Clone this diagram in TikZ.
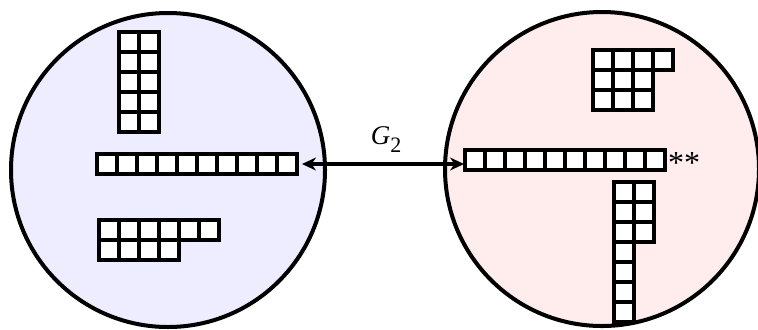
\documentclass[tikz,border=0pt]{standalone}
\usepackage{fontspec}
\setmainfont{Liberation Serif}
\usetikzlibrary{arrows.meta}

\tikzset{cell/.style={draw=black, fill=white, line width=2pt},
	orbit/.style={draw=black, line width=2pt}}
% #1 = left, #2 = top, #3 = row lengths
\newcommand{\youngdiag}[3]{%
	\foreach \len [count=\r] in {#3} {
		\foreach \c in {1,...,\len} {
			\draw[cell] ({#1+20*(\c-1)},{#2-20*(\r-1)}) rectangle ++(20,-20);
		}
	}
}

\begin{document}
\begin{tikzpicture}[x=0.5pt, y=0.5pt, >={Stealth[length=7pt,width=6.5pt]}]
	\clip (0,0) rectangle (758,329);
	\draw[orbit, fill=blue!7] (168,159) circle[radius=157];
	\draw[orbit, fill=red!7] (602,160) circle[radius=157];
	% left orbit
	\youngdiag{119}{297}{2,2,2,2,2}
	\youngdiag{97}{175}{10}
	\youngdiag{99}{109}{6,4}
	% right orbit
	\youngdiag{593}{279}{4,3,3}
	\youngdiag{465}{179}{10}
	\youngdiag{614}{147}{2,2,2,1,1,1,1}
	\coordinate (lend) at (302,165);
	\coordinate (rend) at (464,165);
	\draw[<->, line width=2pt] (lend) -- (rend);
	\node[anchor=base, font=\fontsize{13.5}{15}\selectfont] (g2) at (386,185)
		{\textit{G}\raisebox{-4pt}{\fontsize{11}{13}\selectfont 2}};
	\node[anchor=north, inner sep=0pt, font=\fontsize{16}{18}\selectfont] (stars) at (684,177) {**};
\end{tikzpicture}
\end{document}
